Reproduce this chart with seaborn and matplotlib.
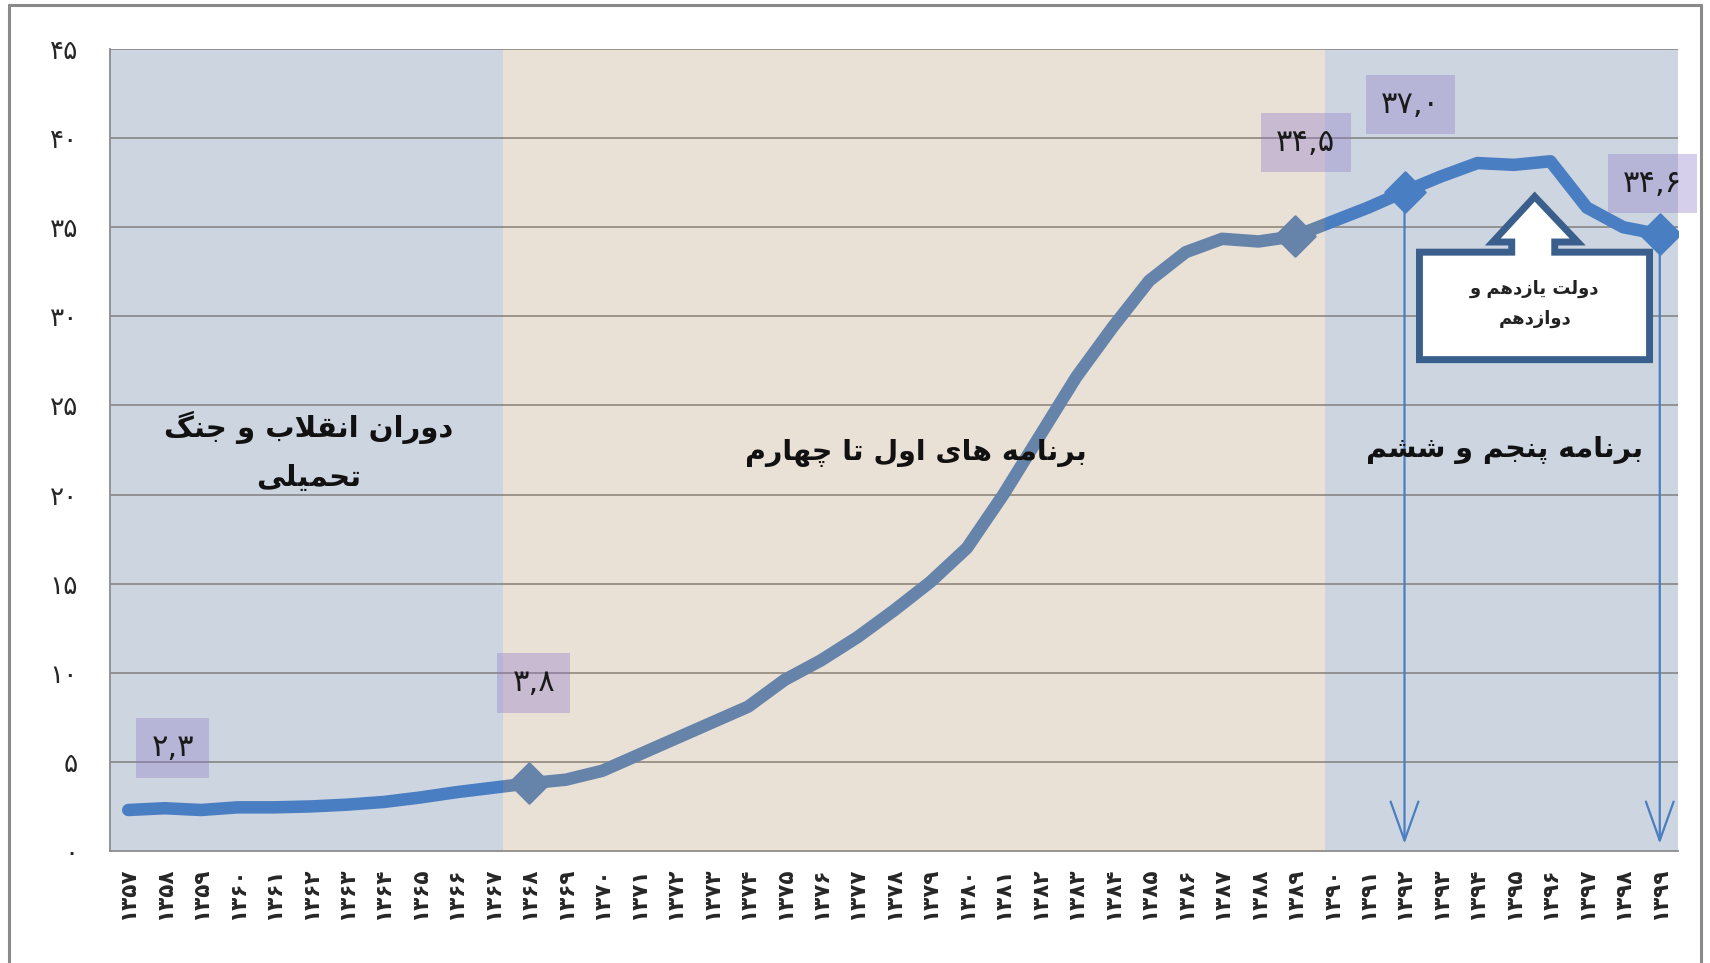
import numpy as np
import pandas as pd
import seaborn as sns
import matplotlib.pyplot as plt
from matplotlib.patches import Polygon
from matplotlib.lines import Line2D

# --- data -------------------------------------------------------------
years = list(range(1357, 1400))
values = [2.3, 2.4, 2.3, 2.45, 2.45, 2.5, 2.6, 2.75, 3.0, 3.3, 3.55,
          3.8, 4.0, 4.5, 5.4, 6.3, 7.2, 8.1, 9.6, 10.7, 12.0, 13.5,
          15.1, 17.0, 20.0, 23.3, 26.6, 29.4, 32.0, 33.6, 34.35, 34.2,
          34.5, 35.3, 36.1, 37.0, 37.85, 38.6, 38.5, 38.7, 36.1, 35.0, 34.6]
marked_years = [1368, 1389, 1392, 1399]
labelled_years = [1357, 1368, 1389, 1392, 1399]
arrow_years = [1392, 1399]
y_ticks = list(range(0, 50, 5))

period_names = ["دوران انقلاب و جنگ\nتحمیلی", "برنامه های اول تا چهارم", "برنامه پنجم و ششم"]
callout_text = "دولت یازدهم و\nدوازدهم"

# --- minimal persian shaping (matplotlib has no bidi / joining) -------
FORMS = {
    'ا': ('\uFE8D', '\uFE8E', None, None),
    'ب': ('\uFE8F', '\uFE90', '\uFE91', '\uFE92'),
    'پ': ('\uFB56', '\uFB57', '\uFB58', '\uFB59'),
    'ت': ('\uFE95', '\uFE96', '\uFE97', '\uFE98'),
    'ج': ('\uFE9D', '\uFE9E', '\uFE9F', '\uFEA0'),
    'چ': ('\uFB7A', '\uFB7B', '\uFB7C', '\uFB7D'),
    'ح': ('\uFEA1', '\uFEA2', '\uFEA3', '\uFEA4'),
    'د': ('\uFEA9', '\uFEAA', None, None),
    'ر': ('\uFEAD', '\uFEAE', None, None),
    'ز': ('\uFEAF', '\uFEB0', None, None),
    'ش': ('\uFEB5', '\uFEB6', '\uFEB7', '\uFEB8'),
    'ق': ('\uFED5', '\uFED6', '\uFED7', '\uFED8'),
    'گ': ('\uFB92', '\uFB93', '\uFB94', '\uFB95'),
    'ل': ('\uFEDD', '\uFEDE', '\uFEDF', '\uFEE0'),
    'م': ('\uFEE1', '\uFEE2', '\uFEE3', '\uFEE4'),
    'ن': ('\uFEE5', '\uFEE6', '\uFEE7', '\uFEE8'),
    'ه': ('\uFEE9', '\uFEEA', '\uFEEB', '\uFEEC'),
    'و': ('\uFEED', '\uFEEE', None, None),
    '\u06CC': ('\uFBFC', '\uFBFD', '\uFBFE', '\uFBFF'),
    '\u064A': ('\uFBFC', '\uFBFD', '\uFBFE', '\uFBFF'),
}


def joins_next(c):
    return c in FORMS and FORMS[c][2] is not None


def fa(text):
    lines = []
    for line in text.split("\n"):
        res = []
        i = 0
        while i < len(line):
            c = line[i]
            if c not in FORMS:
                res.append(c)
                i += 1
                continue
            jp = i > 0 and joins_next(line[i - 1])
            if c == 'ل' and i + 1 < len(line) and line[i + 1] == 'ا':
                res.append('\uFEFC' if jp else '\uFEFB')
                i += 2
                continue
            jn = joins_next(c) and i + 1 < len(line) and line[i + 1] in FORMS
            iso, fin, ini, med = FORMS[c]
            res.append(med if (jp and jn) else fin if jp else ini if jn else iso)
            i += 1
        lines.append("".join(res[::-1]))
    return "\n".join(lines)


def fa_num(s):
    return str(s).translate(str.maketrans("0123456789", "۰۱۲۳۴۵۶۷۸۹"))


# --- frame ------------------------------------------------------------
df = pd.DataFrame({"year": years, "value": values})
df["pos"] = np.arange(len(df))

sns.set_theme(style="white")
plt.rcParams["font.family"] = ["DejaVu Sans"]

fig = plt.figure(figsize=(17.1, 9.63), dpi=100)
ax = fig.add_axes([110 / 1710, 1 - 851 / 963, 1568 / 1710, 802 / 963])
ax.set_xlim(-0.5, 42.5)
ax.set_ylim(0, 45)

blue_bg = "#cdd5e0"
line_col = "#4a7ec2"
grid_col = "#8c8c8c"

# shaded periods
ax.axvspan(-0.5, 10.29, color=blue_bg, lw=0, zorder=0.5)
ax.axvspan(32.82, 42.5, color=blue_bg, lw=0, zorder=0.5)
ax.axvspan(10.29, 32.82, color="#b1926f", alpha=0.28, lw=0, zorder=4)

for yv in y_ticks[1:]:
    ax.axhline(yv, color=grid_col, lw=1.3, zorder=1)

sns.lineplot(data=df, x="pos", y="value", color=line_col, lw=9,
             solid_capstyle="round", ax=ax, zorder=2)
sns.scatterplot(data=df[df["year"].isin(marked_years)], x="pos", y="value",
                marker="D", s=420, color=line_col, edgecolor=line_col,
                ax=ax, zorder=3)

# vertical arrows down to axis
for yr in arrow_years:
    row = df[df["year"] == yr].iloc[0]
    ax.annotate("", xy=(row["pos"], 0.25), xytext=(row["pos"], row["value"]),
                arrowprops=dict(arrowstyle="->,head_length=0.7,head_width=0.25",
                                color=line_col, lw=1.6, mutation_scale=40),
                zorder=5)

# value labels
label_pos = {1357: (1.22, 5.78), 1368: (11.12, 9.43), 1389: (32.29, 39.75),
             1392: (35.17, 41.89), 1399: (41.8, 37.45)}
for yr in labelled_years:
    v = df.loc[df["year"] == yr, "value"].iloc[0]
    lx, ly = label_pos[yr]
    ax.text(lx, ly, fa_num(f"{v:.1f}").replace(".", ","), ha="center", va="center",
            fontsize=22, color="#1a1a1a", zorder=8, clip_on=False,
            bbox=dict(boxstyle="square,pad=0.5", fc="#8c78c8", ec="none", alpha=0.35))

# period captions
ax.text(4.94, 22.4, fa(period_names[0]), ha="center", va="center", fontsize=21,
        fontweight="bold", linespacing=1.9, color="#111111", zorder=8)
ax.text(21.6, 22.35, fa(period_names[1]), ha="center", va="center", fontsize=20.5,
        fontweight="bold", color="#111111", zorder=8)
ax.text(37.75, 22.5, fa(period_names[2]), ha="center", va="center", fontsize=20.5,
        fontweight="bold", color="#111111", zorder=8)

# callout (up arrow box)
callout = [(35.41, 27.57), (41.72, 27.57), (41.72, 33.6), (39.12, 33.6),
           (39.12, 34.17), (39.75, 34.17), (38.57, 36.72), (37.42, 34.17),
           (37.94, 34.17), (37.94, 33.6), (35.41, 33.6)]
ax.add_patch(Polygon(callout, closed=True, fc="white", ec="#3a5f8d", lw=5,
                     joinstyle="miter", zorder=6))
ax.text(38.57, 30.7, fa(callout_text), ha="center", va="center", fontsize=13,
        fontweight="bold", linespacing=1.9, color="#222222", zorder=7)

# axes styling
sns.despine(ax=ax, top=True, right=True)
for side in ["left", "bottom"]:
    ax.spines[side].set_color(grid_col)
    ax.spines[side].set_linewidth(1.3)
ax.set_yticks(y_ticks)
ax.set_yticklabels([fa_num(t) for t in y_ticks], fontsize=19)
ax.set_xticks(df["pos"])
ax.set_xticklabels([fa_num(y) for y in years], rotation=90, fontsize=15.5,
                   fontweight="bold")
ax.tick_params(axis="y", length=10, width=1.3, color=grid_col, pad=13)
ax.tick_params(axis="x", length=0, pad=12)
ax.set_xlabel("")
ax.set_ylabel("")

# outer chart border
for xs, ys in [([0.0053, 0.0053], [0.0, 0.9948]), ([0.0053, 0.9947], [0.9948, 0.9948]),
               ([0.9947, 0.9947], [0.0, 0.9948])]:
    fig.add_artist(Line2D(xs, ys, color="#8a8a8a", lw=2.2, transform=fig.transFigure))

fig.savefig("out.png", dpi=100)
